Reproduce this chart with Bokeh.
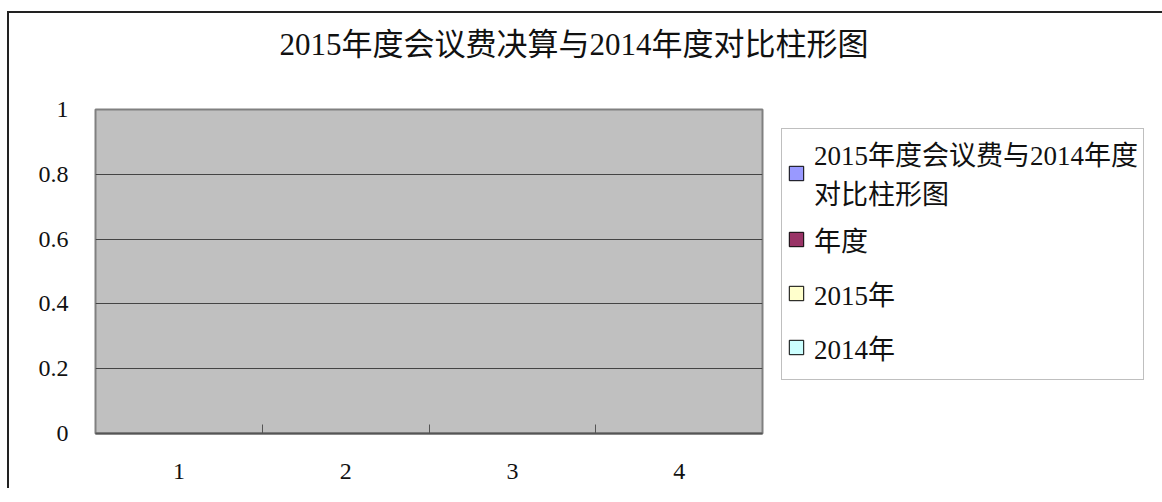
from bokeh.plotting import figure
from bokeh.models import Legend, LegendItem, FixedTicker, Title
from bokeh.embed import file_html
from bokeh.resources import INLINE
import numpy as np

# ---- data ----
categories = ["1", "2", "3", "4"]
series_names = ["2015年度会议费与2014年度\n对比柱形图", "年度", "2015年", "2014年"]
series_colors = ["#9999FF", "#993366", "#FFFFCC", "#CCFFFF"]
# the chart holds no values (empty series)
series_values = [
    [None, None, None, None],
    [None, None, None, None],
    [None, None, None, None],
    [None, None, None, None],
]
y_ticks = [0, 0.2, 0.4, 0.6, 0.8, 1]
y_tick_labels = {0: "0", 0.2: "0.2", 0.4: "0.4", 0.6: "0.6", 0.8: "0.8", 1: "1"}
title_text = "2015年度会议费决算与2014年度对比柱形图"

FONT = "'Liberation Serif', 'Noto Sans CJK SC'"
TXT = "#111111"

p = figure(
    output_backend="svg", toolbar_location=None, title=None,
    frame_width=667, frame_height=324,
    x_range=(0.5, 4.5), y_range=(0, 1),
    min_border_left=86, min_border_top=96, min_border_bottom=55, min_border_right=0,
    background_fill_color="#C0C0C0", border_fill_color="white",
    outline_line_color="#808080", outline_line_width=2,
)
p.styles = {"border-left": "2px solid #222222", "border-top": "2px solid #222222",
            "margin-top": "11px", "margin-left": "7px"}

xs = np.arange(1, len(categories) + 1)
n = len(series_names)
w = 0.8 / n
items = []
for i, (name, col, vals) in enumerate(zip(series_names, series_colors, series_values)):
    v = np.array([np.nan if a is None else a for a in vals], dtype=float)
    r = p.vbar(x=xs - 0.4 + w * (i + 0.5), top=v, bottom=0, width=w,
               fill_color=col, line_color="black", line_width=1)
    items.append(LegendItem(label=name, renderers=[r]))

legend = Legend(items=items, location="top_left",
                label_text_font=FONT, label_text_font_size="27px", label_text_color=TXT,
                glyph_width=18, glyph_height=18, label_standoff=9, padding=5,
                spacing=0, margin=19, label_height=54, label_width=324,
                border_line_color="#808080", border_line_width=1,
                background_fill_color="white", background_fill_alpha=1)
p.add_layout(legend, "right")

# spacer between frame and title, then the chart title above it
p.add_layout(Title(text=" ", text_font_size="1px", standoff=45), "above")
p.add_layout(Title(text=title_text, text_font=FONT, text_font_size="31px",
                   text_font_style="normal", text_color=TXT, align="left",
                   offset=184, standoff=0), "above")

# y axis
p.yaxis.ticker = FixedTicker(ticks=y_ticks)
p.yaxis.major_label_overrides = y_tick_labels
p.yaxis.major_label_text_font = FONT
p.yaxis.major_label_text_font_size = "24px"
p.yaxis.major_label_text_color = TXT
p.yaxis.major_tick_line_color = None
p.yaxis.major_tick_out = 0
p.yaxis.major_tick_in = 0
p.yaxis.minor_tick_line_color = None
p.yaxis.axis_line_color = None
p.yaxis.major_label_standoff = 27

# x axis
p.xaxis.ticker = FixedTicker(ticks=list(xs), minor_ticks=[1.5, 2.5, 3.5])
p.xaxis.major_label_overrides = {int(k): c for k, c in zip(xs, categories)}
p.xaxis.major_label_text_font = FONT
p.xaxis.major_label_text_font_size = "24px"
p.xaxis.major_label_text_color = TXT
p.xaxis.major_tick_line_color = None
p.xaxis.major_tick_out = 0
p.xaxis.major_tick_in = 0
p.xaxis.minor_tick_line_color = "#555555"
p.xaxis.minor_tick_in = 9
p.xaxis.minor_tick_out = 0
p.xaxis.axis_line_color = "#555555"
p.xaxis.axis_line_width = 2
p.xaxis.major_label_standoff = 30

p.xgrid.grid_line_color = None
p.ygrid.grid_line_color = "#444444"
p.ygrid.grid_line_width = 1

open("out.html", "w").write(file_html(p, INLINE))
